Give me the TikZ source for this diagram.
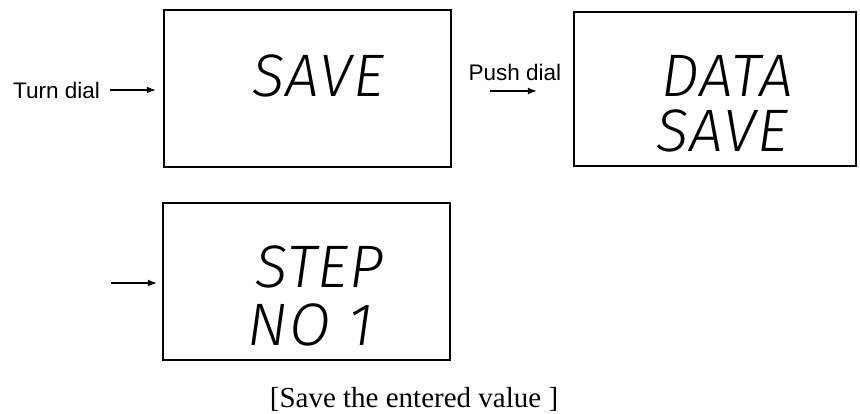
\documentclass[tikz,border=0pt]{standalone}
\usepackage{fontspec}
\setmainfont{Liberation Serif}
\setsansfont{Liberation Sans}
\newfontfamily\lcdfont[LetterSpace=2]{Fira Sans Light Italic}
\usetikzlibrary{arrows.meta}
\begin{document}
\begin{tikzpicture}[x=1pt,y=-1pt,
  lcdbox/.style={draw, line width=2.4pt, inner sep=0pt},
  arr/.style={line width=1.3pt, -{Latex[length=9pt,width=7pt]}},
  lbl/.style={font=\sffamily\fontsize{22.5}{26}\selectfont, inner sep=0pt},
  seg/.style={font=\lcdfont\fontsize{60}{60}\selectfont, anchor=base, inner sep=0pt},
  captxt/.style={font=\fontsize{29}{32}\selectfont, inner sep=0pt}]
\useasboundingbox (0,0) rectangle (860,414);
% boxes
\node[lcdbox, minimum width=287pt, minimum height=157pt] (b1) at (307.5,88.5) {};
\node[lcdbox, minimum width=282pt, minimum height=154pt] (b2) at (715,89) {};
\node[lcdbox, minimum width=287pt, minimum height=157pt] (b3) at (306.5,281.5) {};
% display texts
\node[seg] (t1) at (318,97) {SAVE};
\node[seg] (t2a) at (727,97) {DATA};
\node[seg] (t2b) at (722,152) {SAVE};
\node[seg] (t3a) at (319.5,288) {STEP};
\node[seg] (t3b) at (310.5,345) {NO 1};
% labels
\node[lbl, anchor=east] (turn) at (100,90) {Turn dial};
\node[lbl] (push) at (515,72) {Push dial};
\coordinate (s3) at (111,283);
% arrows
\draw[arr, shorten <=10pt, shorten >=7pt] (turn.east) -- (turn.east -| b1.west);
\draw[arr, shorten <=38pt, shorten >=36pt] (b1.east |- 0,91) -- (b2.west |- 0,91);
\draw[arr, shorten >=5pt] (s3) -- (s3 -| b3.west);
% caption
\node[captxt, anchor=base] (cap) at (414,407) {[Save the entered value ]};
\end{tikzpicture}
\end{document}
